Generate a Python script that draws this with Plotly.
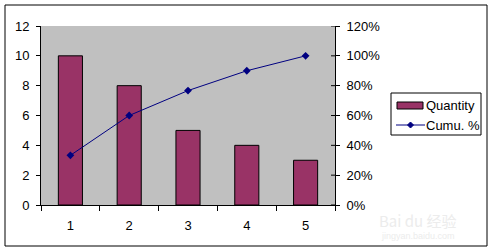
import plotly.graph_objects as go

categories = ["1", "2", "3", "4", "5"]
quantity = [10, 8, 5, 4, 3]
cumu_pct = [33.3, 60.0, 76.7, 90.0, 100.0]
left_ticks = [0, 2, 4, 6, 8, 10, 12]
right_ticks = [0, 20, 40, 60, 80, 100, 120]
right_tick_text = ["0%", "20%", "40%", "60%", "80%", "100%", "120%"]
legend_names = ["Quantity", "Cumu. %"]

BAR_COLOR = "#993366"
LINE_COLOR = "#000080"

fig = go.Figure()
fig.add_trace(go.Bar(
    x=categories, y=quantity, name=legend_names[0],
    marker=dict(color=BAR_COLOR, line=dict(color="black", width=1)),
))
fig.add_trace(go.Scatter(
    x=categories, y=cumu_pct, name=legend_names[1], yaxis="y2",
    mode="lines+markers",
    line=dict(color=LINE_COLOR, width=1),
    marker=dict(symbol="diamond", size=6, color=LINE_COLOR),
))

L, R, T, B = 41, 335, 26, 205
W, H = 495, 252
pw, ph = R - L, B - T

def px(x):
    return (x - L) / pw

def py(y):
    return (B - y) / ph

font = dict(family="Liberation Sans, Arial, sans-serif", size=13, color="black")

shapes = [
    dict(type="rect", xref="paper", yref="paper",
         x0=px(5), x1=px(487), y0=py(246), y1=py(5),
         line=dict(color="black", width=1), fillcolor="rgba(0,0,0,0)",
         layer="below"),
    dict(type="rect", xref="paper", yref="paper",
         x0=px(391), x1=px(481), y0=py(135), y1=py(93),
         line=dict(color="black", width=1), fillcolor="white"),
    dict(type="rect", xref="paper", yref="paper",
         x0=px(397), x1=px(423), y0=py(109), y1=py(102),
         line=dict(color="black", width=1), fillcolor=BAR_COLOR),
    dict(type="line", xref="paper", yref="paper",
         x0=px(396), x1=px(425), y0=py(125), y1=py(125),
         line=dict(color=LINE_COLOR, width=1)),
    dict(type="path", xref="paper", yref="paper",
         path=(f"M {px(410.5)} {py(122)} L {px(413.5)} {py(125)} "
               f"L {px(410.5)} {py(128)} L {px(407.5)} {py(125)} Z"),
         line=dict(color=LINE_COLOR, width=1), fillcolor=LINE_COLOR),
]
# inner halves of the crossing tick marks on the right axis
for v in right_ticks:
    shapes.append(dict(type="line", xref="paper", yref="y2",
                       x0=px(331), x1=1, y0=v, y1=v,
                       line=dict(color="black", width=1)))

annotations = [
    dict(text=legend_names[0], xref="paper", yref="paper",
         x=px(425), y=py(105.5), xanchor="left", yanchor="middle",
         showarrow=False, font=font, borderpad=0),
    dict(text=legend_names[1], xref="paper", yref="paper",
         x=px(425), y=py(125), xanchor="left", yanchor="middle",
         showarrow=False, font=font, borderpad=0),
    dict(text="Bai du 经验", xref="paper", yref="paper",
         x=px(418), y=py(220), xanchor="center", yanchor="middle",
         showarrow=False,
         font=dict(family="Noto Sans CJK SC, sans-serif", size=15,
                   color="#ececec")),
    dict(text="jingyan.baidu.com", xref="paper", yref="paper",
         x=px(418), y=py(236), xanchor="center", yanchor="middle",
         showarrow=False,
         font=dict(family="Liberation Sans, sans-serif", size=9,
                   color="#ececec")),
]

fig.update_layout(
    width=W, height=H,
    margin=dict(l=L, r=W - R, t=T, b=H - B, pad=0, autoexpand=False),
    paper_bgcolor="white", plot_bgcolor="#C0C0C0",
    font=font,
    bargap=0.59,
    showlegend=False,
    xaxis=dict(
        type="category", showgrid=False, showline=True, linecolor="black",
        ticks="outside", tickson="boundaries", ticklen=5, tickcolor="black",
        ticklabelstandoff=8, automargin=False,
    ),
    yaxis=dict(
        range=[0, 12], tickvals=left_ticks, showgrid=False, zeroline=False,
        showline=True, linecolor="black", ticks="outside", ticklen=4,
        tickcolor="black", ticklabelstandoff=4, automargin=False,
    ),
    yaxis2=dict(
        overlaying="y", side="right", range=[0, 120], tickmode="array",
        tickvals=right_ticks, ticktext=right_tick_text,
        showgrid=False, zeroline=False, showline=True,
        linecolor="black", ticks="outside", ticklen=4, tickcolor="black",
        ticklabelstandoff=4, automargin=False,
    ),
    shapes=shapes,
    annotations=annotations,
)

fig.write_html("out.html")
